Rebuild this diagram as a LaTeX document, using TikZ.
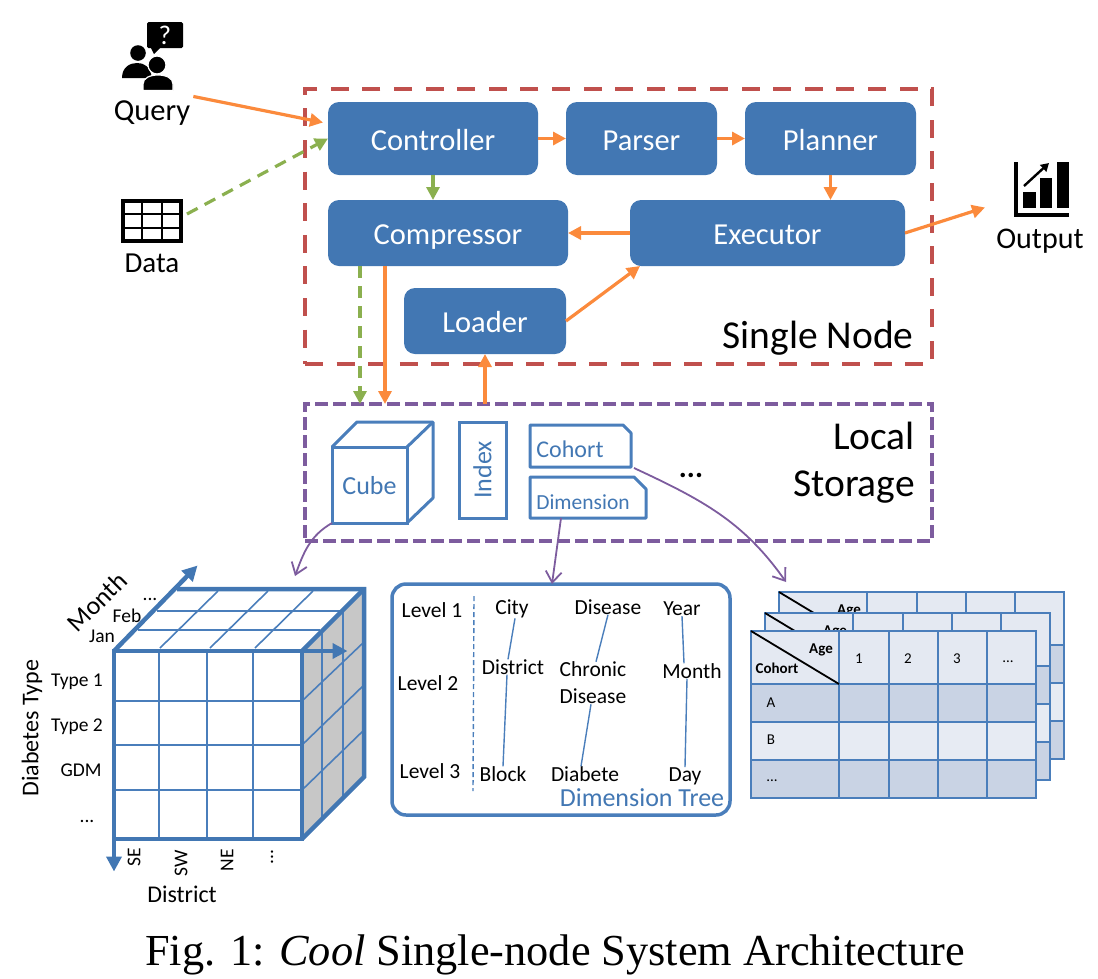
\documentclass[tikz,border=0pt]{standalone}
\usepackage{fontspec}
\setmainfont{Carlito}
\newfontfamily\capfont{Liberation Serif}
\usetikzlibrary{arrows.meta,positioning,calc}
\definecolor{boxblue}{HTML}{4277B3}
\definecolor{gridblue}{HTML}{4A7EBB}
\definecolor{redline}{HTML}{C0504D}
\definecolor{purpleline}{HTML}{7D5C9E}
\definecolor{flowor}{HTML}{FB8A3C}
\definecolor{flowgr}{HTML}{8BB04F}
\definecolor{cellhead}{HTML}{E4E9F2}
\definecolor{celldark}{HTML}{C9D3E4}
\definecolor{celllight}{HTML}{E7EBF3}
\newcommand{\fsz}[1]{\fontsize{#1}{#1}\selectfont}
\tikzset{
  proc/.style={fill=boxblue,text=white,rounded corners=11,inner sep=0,outer sep=0,text height=24,text depth=1,font=\fontsize{30.5}{36}\selectfont},
  orangearrow/.style={draw=flowor,line width=3.2,-{Triangle[length=13,width=13]}},
  greenarrow/.style={draw=flowgr,line width=3.2,dash pattern=on 12 off 8,-{Triangle[length=13,width=13,sep=0]}},
  linkarrow/.style={draw=purpleline,line width=1.8,-{Straight Barb[length=11,width=16,line width=1.8]}},
  store/.style={draw=gridblue,line width=3,text=boxblue,inner sep=0,outer sep=0},
  treetext/.style={inner sep=0,font=\fontsize{21.5}{27}\selectfont,align=center},
  treeline/.style={draw=gridblue,line width=1.4},
  cubeline/.style={draw=gridblue,line width=1.6},
  cubeedge/.style={draw=boxblue,line width=4.5},
  axistext/.style={inner sep=0,font=\fsz{19.5}},
  celltext/.style={inner sep=0,font=\fsz{15}},
  tableline/.style={draw=gridblue,line width=2.4}
}
\begin{document}
\begin{tikzpicture}[x=1pt,y=-1pt]
  \useasboundingbox (0,0) rectangle (1098,978);

  % dashed frames
  \node (singlenode) at (618.5,226.5) [draw=redline,line width=4,dash pattern=on 18 off 13.6,inner sep=0,outer sep=0,minimum width=627,minimum height=275] {};
  \node (storage) at (618.5,472.5) [draw=purpleline,line width=3.6,dash pattern=on 13 off 5,inner sep=0,outer sep=0,minimum width=627,minimum height=137] {};
  \node (singlelabel) at (818,338) [inner sep=0,font=\fsz{39.5}] {Single Node};
  \node (storagelabel) at (915,463) [anchor=east,inner sep=0,align=right,font=\fontsize{39.5}{47}\selectfont] {Local\\Storage};

  % blue process boxes
  \node (controller) at (433,138.5) [proc,minimum width=210,minimum height=73] {Controller};
  \node (parser) at (641.5,138.5) [proc,minimum width=151,minimum height=73] {Parser};
  \node (planner) at (830.5,138.5) [proc,minimum width=171,minimum height=73] {Planner};
  \node (compressor) at (448,233) [proc,minimum width=240,minimum height=66] {Compressor};
  \node (executor) at (767.5,233) [proc,minimum width=275,minimum height=66] {Executor};
  \node (loader) at (485,321) [proc,minimum width=162,minimum height=66] {Loader};

  % query icon
  \fill[black,rounded corners=1.5] (147,22) rectangle (183,48);
  \fill[black] (150,46) -- (154,54) -- (162,46) -- cycle;
  \node (mark) at (165,35) [text=white,inner sep=0,font=\fsz{27}] {?};
  \fill[black] (138,53) circle (7.8);
  \fill[black] (122,78) .. controls (122,67) and (130,63) .. (137,63) .. controls (144,63) and (150,66) .. (152,78) -- cycle;
  \fill[black,draw=white,line width=1.2] (143,90.5) -- (143,84) .. controls (143,78) and (150,75) .. (158,75) .. controls (166,75) and (173,78) .. (173,84) -- (173,90.5) -- cycle;
  \fill[black,draw=white,line width=1.2] (157,65) circle (9);
  \node (query) at (152,113) [inner sep=0,font=\fsz{30.5}] {Query};

  % data icon
  \node (dataicon) at (152,221) [draw=black,line width=4,inner sep=0,outer sep=0,minimum width=58,minimum height=40] {};
  \draw[black,line width=2.8] (142,201) -- (142,241);
  \draw[black,line width=2.8] (162,201) -- (162,241);
  \draw[black,line width=2.8] (122,214) -- (182,214);
  \draw[black,line width=2.8] (122,228) -- (182,228);
  \node (data) at (152,263) [inner sep=0,font=\fsz{29}] {Data};

  % output icon
  \node (outputicon) at (1041.5,189.5) [inner sep=0,outer sep=0,minimum width=55,minimum height=55] {};
  \fill[black] (1014,162) rectangle (1018,217);
  \fill[black] (1014,213) rectangle (1069,217);
  \fill[black] (1023,192) rectangle (1036,208);
  \fill[black] (1040,178) rectangle (1052,208);
  \fill[black] (1057,162) rectangle (1069,208);
  \draw[black,line width=2.4,-{Triangle[length=8,width=9]}] (1024,186) -- (1049,163);
  \node (output) at (1040,241) [inner sep=0,font=\fsz{30}] {Output};

  % flows of the single node
  \draw[orangearrow] ([shift={(3,-4)}]query.north east) -- ([shift={(-5,-16)}]controller.west);
  \draw[greenarrow] ([shift={(6,-7)}]dataicon.east) -- (controller.west);
  \draw[orangearrow] (controller) -- (parser);
  \draw[orangearrow] (parser) -- (planner);
  \draw[orangearrow] (planner.south) -- (planner.south |- executor.north);
  \draw[greenarrow] (controller.south) -- (controller.south |- compressor.north);
  \draw[orangearrow] (executor) -- (compressor);
  \draw[orangearrow] (executor.east) -- ([shift={(-29,18)}]outputicon.west);
  \draw[orangearrow] (loader.east) -- ([xshift=10]executor.south west);
  \draw[greenarrow] ([xshift=-88]compressor.south) -- ([xshift=-88]compressor.south |- storage.north);
  \draw[orangearrow] ([xshift=-63]compressor.south) -- ([xshift=-63]compressor.south |- storage.north);
  \draw[orangearrow] (loader |- storage.north) -- (loader.south);

  % local storage items
  \node (cube) at (369.5,485) [store,minimum width=75,minimum height=76,text height=19,text depth=1,font=\fsz{26}] {Cube};
  \draw[draw=gridblue,line width=3,line join=round] (cube.north west) -- (357,422) -- (433,422) -- (433,498) -- (cube.south east);
  \draw[draw=gridblue,line width=3] (cube.north east) -- (433,422);
  \node (index) at (482.5,470) [store,minimum width=47,minimum height=96] {};
  \node (indextext) at (index.center) [rotate=90,text=boxblue,inner sep=0,font=\fsz{26}] {Index};
  \node (cohort) at (580.5,446) [inner sep=0,outer sep=0,minimum width=101,minimum height=42] {};
  \draw[draw=gridblue,line width=3,line join=round] (cohort.south west) -- (cohort.south east) -- ([yshift=-8]cohort.north east) -- ([xshift=-8]cohort.north east) -- (cohort.north west) -- cycle;
  \node (cohorttext) at (570,449) [text=boxblue,inner sep=0,font=\fsz{24}] {Cohort};
  \node (dimension) at (588,497.5) [inner sep=0,outer sep=0,minimum width=116,minimum height=41] {};
  \draw[draw=gridblue,line width=3,line join=round] (dimension.south west) -- (dimension.south east) -- ([yshift=-12]dimension.north east) -- ([xshift=-12]dimension.north east) -- (dimension.north west) -- cycle;
  \node (dimensiontext) at (583,502) [text=boxblue,inner sep=0,font=\fsz{21.5}] {Dimension};
  \node (more) at (691,475) [inner sep=0,font=\bfseries\fsz{30}] {...};

  % data cube
  \fill[fill=black!22] (302,651) -- (364,589) -- (364,777) -- (302,839) -- cycle;
  \foreach \px in {159,207,253} \draw[cubeline] (\px,651) -- (\px,839);
  \foreach \py in {701,745,790} \draw[cubeline] (114,\py) -- (302,\py);
  \draw[cubeline] (160,648) -- (218,591);
  \draw[cubeline] (210,648) -- (268,591);
  \draw[cubeline] (255,648) -- (313,591);
  \draw[cubeline] (138,630) -- (320,630);
  \draw[cubeline] (157,611) -- (340,611);
  \draw[cubeline] (322,630) -- (322,820);
  \draw[cubeline] (343,611) -- (343,798);
  \draw[cubeline] (302,701) -- (364,642);
  \draw[cubeline] (302,745) -- (364,685);
  \draw[cubeline] (302,790) -- (364,730);
  \draw[cubeedge,line join=miter] (114,651) rectangle (302,839);
  \draw[cubeedge,line join=miter] (177,589) -- (364,589) -- (364,777) -- (302,839);
  \draw[cubeedge] (302,651) -- (364,589);
  \node (monthend) at (198,565) [inner sep=0,outer sep=0] {};
  \node (districtend) at (348,651) [inner sep=0,outer sep=0] {};
  \node (typeend) at (114,872) [inner sep=0,outer sep=0] {};
  \node (cubecorner) at (114,651) [inner sep=0,outer sep=0] {};
  \draw[cubeedge,-{Triangle[length=15,width=15]}] (cubecorner) -- (monthend);
  \draw[cubeedge,-{Triangle[length=15,width=15]}] (302,651) -- (districtend);
  \draw[cubeedge,-{Triangle[length=15,width=15]}] (114,839) -- (typeend);
  \node (monthlabel) at (97,602) [rotate=45,inner sep=0,font=\fsz{26}] {Month};
  \node (jan) at (102,636) [axistext] {Jan};
  \node (feb) at (127,616) [axistext] {Feb};
  \node (monthmore) at (150,599) [axistext] {...};
  \node (typelabel) at (32,728) [rotate=90,inner sep=0,font=\fsz{24}] {Diabetes Type};
  \node (type1) at (77,682) [axistext] {Type 1};
  \node (type2) at (77,727) [axistext] {Type 2};
  \node (gdm) at (81,770) [axistext] {GDM};
  \node (typemore) at (87,821) [axistext] {...};
  \node (se) at (134,857) [rotate=90,axistext] {SE};
  \node (sw) at (181,863) [rotate=90,axistext] {SW};
  \node (ne) at (227,860) [rotate=90,axistext] {NE};
  \node (districtmore) at (272,857) [rotate=90,axistext] {...};
  \node (districtlabel) at (182,894) [inner sep=0,font=\fsz{24}] {District};

  % dimension tree
  \node (tree) at (561,699.5) [draw=gridblue,line width=3.5,rounded corners=14,inner sep=0,outer sep=0,minimum width=338,minimum height=231] {};
  \node (level1) at (432,610) [treetext] {Level 1};
  \node (level2) at (428,683) [treetext] {Level 2};
  \node (level3) at (430,771) [treetext] {Level 3};
  \node (city) at (512,609) [treetext] {City};
  \node (district) at (513,667) [treetext] {District};
  \node (block) at (503,774) [treetext] {Block};
  \node (disease) at (608,607) [treetext] {Disease};
  \node (chronic) at (593,683) [treetext] {Chronic\\Disease};
  \node (diabete) at (585,774) [treetext] {Diabete};
  \node (year) at (682,609) [treetext] {Year};
  \node (month) at (692,671) [treetext] {Month};
  \node (day) at (685,776) [treetext] {Day};
  \node (treetitle) at (642,798) [text=boxblue,inner sep=0,font=\fsz{26}] {Dimension Tree};
  \coordinate (dashtop) at (474,596);
  \coordinate (dashbottom) at (473,791);
  \draw[treeline,dash pattern=on 5 off 3] (dashtop) -- (dashbottom);
  \draw[treeline] ([xshift=3]city.south) -- ([xshift=-5]district.north);
  \draw[treeline] ([xshift=-6]district.south) -- (block.north);
  \draw[treeline] (disease.south) -- ([xshift=3]chronic.north);
  \draw[treeline] ([xshift=-2]chronic.south) -- ([xshift=-4]diabete.north);
  \draw[treeline] (year.south) -- ([xshift=-8]month.north);
  \draw[treeline] ([xshift=-5]month.south) -- (day.north);

  % cohort tables, back to front
  \foreach \dx/\dy/\tid in {28/-39/c,14/-18/b,0/0/a} {
    \begin{scope}[shift={(\dx,\dy)}]
      \fill[cellhead] (751,631) rectangle (1036,684);
      \fill[celldark] (751,684) rectangle (1036,722);
      \fill[celllight] (751,722) rectangle (1036,760);
      \fill[celldark] (751,760) rectangle (1036,798);
      \foreach \px in {839,889,938,987} \draw[tableline] (\px,631) -- (\px,798);
      \foreach \py in {684,722,760} \draw[tableline] (751,\py) -- (1036,\py);
      \draw[tableline] (751,631) rectangle (1036,798);
      \draw[black,line width=1.8] (751,631) -- (839,684);
      \node (age\tid) at (821,650) [celltext,font=\bfseries\fsz{15}] {Age};
      \node (cohort\tid) at (777,668) [celltext,font=\bfseries\fsz{15}] {Cohort};
      \node (one\tid) at (859,659) [celltext] {1};
      \node (two\tid) at (908,659) [celltext] {2};
      \node (three\tid) at (957,659) [celltext] {3};
      \node (agemore\tid) at (1008,662) [celltext] {...};
      \node (rowa\tid) at (771,703) [celltext] {A};
      \node (rowb\tid) at (771,740) [celltext] {B};
      \node (rowmore\tid) at (772,781) [celltext] {...};
    \end{scope}
  }

  % links from storage to the detail views
  \coordinate (cubein) at (295,576);
  \coordinate (tablein) at (786,582);
  \draw[linkarrow] (cube.south west) to[out=210,in=70] (cubein);
  \draw[linkarrow] ([xshift=-27]dimension.south) -- ([xshift=-9]tree.north);
  \draw[linkarrow] ([shift={(3,1)}]cohort.south east) to[out=-25,in=125] (tablein);

  % caption
  \node (caption) at (555,955) [inner sep=0,font=\capfont\fsz{44.3}] {Fig. 1: \textit{Cool} Single-node System Architecture};
\end{tikzpicture}
\end{document}
